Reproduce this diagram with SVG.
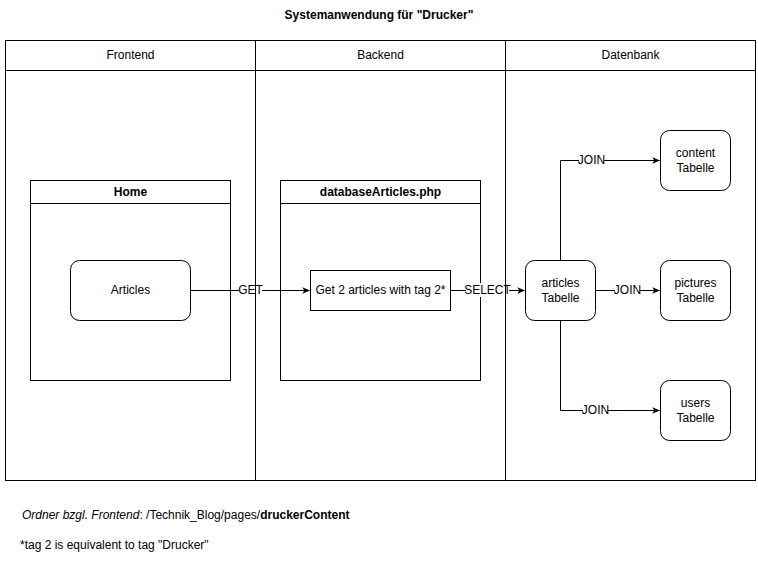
<svg xmlns="http://www.w3.org/2000/svg" width="758" height="561" viewBox="0 0 758 561">
<style>
text{font-family:"Liberation Sans",Arial,sans-serif;font-size:12px;fill:#000}
.c{text-anchor:middle}
.b{font-weight:bold}
.s{fill:#fff;stroke:#000;stroke-width:1}
.e{fill:none;stroke:#000;stroke-width:1}
.lb{fill:#fff}
</style>
<defs>
<marker id="ar" viewBox="0 0 10 10" refX="9" refY="5" markerWidth="8" markerHeight="8" markerUnits="userSpaceOnUse" orient="auto">
<path d="M0,1 L10,5 L0,9 L2.5,5 Z" fill="#000"/>
</marker>
</defs>
<rect width="758" height="561" fill="#fff"/>
<text class="c b" x="379" y="19">Systemanwendung für "Drucker"</text>
<g id="home">
<rect class="s" x="30.5" y="180.5" width="200" height="200"/>
<line class="e" x1="30.5" y1="203.5" x2="230.5" y2="203.5"/>
<text class="c b" x="130.5" y="196">Home</text>
</g>
<g id="articles">
<rect class="s" x="70.5" y="260.5" width="120" height="60" rx="9"/>
<text class="c" x="130.5" y="294">Articles</text>
</g>
<g id="dbphp">
<rect class="s" x="280.5" y="180.5" width="200" height="200"/>
<line class="e" x1="280.5" y1="203.5" x2="480.5" y2="203.5"/>
<text class="c b" x="380.5" y="196">databaseArticles.php</text>
</g>
<g id="get2">
<rect class="s" x="310.5" y="270.5" width="140" height="40"/>
<text class="c" x="380.5" y="294">Get 2 articles with tag 2*</text>
</g>
<g id="articlesT">
<rect class="s" x="525.5" y="260.5" width="70" height="60" rx="9"/>
<text class="c" x="560.5" y="287">articles</text>
<text class="c" x="560.5" y="302">Tabelle</text>
</g>
<g id="contentT">
<rect class="s" x="660.5" y="130.5" width="70" height="60" rx="9"/>
<text class="c" x="695.5" y="157">content</text>
<text class="c" x="695.5" y="172">Tabelle</text>
</g>
<g id="picturesT">
<rect class="s" x="660.5" y="260.5" width="70" height="60" rx="9"/>
<text class="c" x="695.5" y="287">pictures</text>
<text class="c" x="695.5" y="302">Tabelle</text>
</g>
<g id="usersT">
<rect class="s" x="660.5" y="380.5" width="70" height="60" rx="9"/>
<text class="c" x="695.5" y="407">users</text>
<text class="c" x="695.5" y="422">Tabelle</text>
</g>
<g id="connectors">
<path class="e" d="M190.5,290.5 H309.5" marker-end="url(#ar)"/>
<rect class="lb" x="239" y="283" width="23" height="14"/>
<text class="c" x="250.5" y="294">GET</text>
<path class="e" d="M450.5,290.5 H524.5" marker-end="url(#ar)"/>
<rect class="lb" x="466" y="283" width="43" height="14"/>
<text class="c" x="487.5" y="294">SELECT</text>
<path class="e" d="M560.5,260.5 V160.5 H659.5" marker-end="url(#ar)"/>
<rect class="lb" x="579" y="153" width="25" height="14"/>
<text class="c" x="591.5" y="164">JOIN</text>
<path class="e" d="M595.5,290.5 H659.5" marker-end="url(#ar)"/>
<rect class="lb" x="615" y="283" width="25" height="14"/>
<text class="c" x="627.5" y="294">JOIN</text>
<path class="e" d="M560.5,320.5 V410.5 H659.5" marker-end="url(#ar)"/>
<rect class="lb" x="583" y="403" width="25" height="14"/>
<text class="c" x="595.5" y="414">JOIN</text>
</g>
<g id="lanes">
<rect class="e" x="5.5" y="40.5" width="750" height="440"/>
<line class="e" x1="5.5" y1="70.5" x2="755.5" y2="70.5"/>
<line class="e" x1="255.5" y1="40.5" x2="255.5" y2="480.5"/>
<line class="e" x1="505.5" y1="40.5" x2="505.5" y2="480.5"/>
<text class="c" x="130.5" y="59">Frontend</text>
<text class="c" x="380.5" y="59">Backend</text>
<text class="c" x="630.5" y="59">Datenbank</text>
</g>
<g id="notes">
<text x="22" y="519"><tspan font-style="italic">Ordner bzgl. Frontend</tspan>: /Technik_Blog/pages/<tspan class="b">druckerContent</tspan></text>
<text x="20" y="549">*tag 2 is equivalent to tag "Drucker"</text>
</g>
</svg>
